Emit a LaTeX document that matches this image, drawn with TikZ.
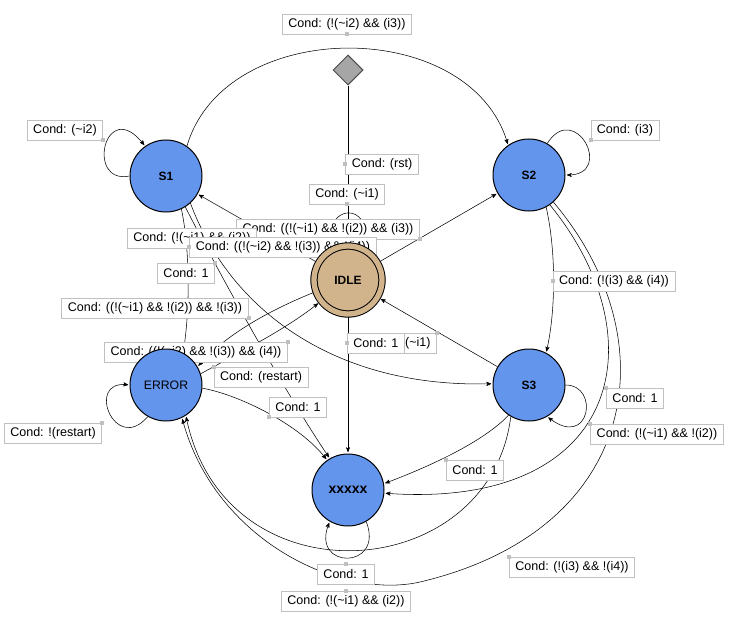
\documentclass[tikz,border=0pt]{standalone}
\usepackage{fontspec}
\setmainfont{Liberation Sans}
\usepackage{tikz}
\usetikzlibrary{automata,arrows,shapes.geometric}

\definecolor{stateblue}{RGB}{100,149,237}
\definecolor{idletan}{RGB}{210,180,140}
\definecolor{rstgray}{RGB}{166,166,166}
\definecolor{boxgray}{RGB}{192,192,192}

\newcommand{\tld}{\textasciitilde}

\pgfdeclarelayer{edges}
\pgfdeclarelayer{conds}
\pgfsetlayers{edges,conds,main}

\tikzset{
  every state/.style={draw, fill=stateblue, minimum size=54pt, inner sep=0pt,
    font=\fontsize{9}{10}\selectfont\bfseries},
  idle/.style={fill=idletan, double=idletan, double distance=4pt, minimum size=51pt, outer sep=2pt},
  rst/.style={diamond, draw=black!70, fill=rstgray, minimum size=22.5pt, inner sep=0pt},
  cond/.style={draw=boxgray, fill=white, font=\fontsize{9.4}{11}\selectfont,
    inner xsep=4.5pt, inner ysep=0pt, minimum height=15pt, line width=0.6pt},
  mk/.style={fill=boxgray}
}

\begin{document}
\begin{tikzpicture}[x=0.75pt,y=-0.75pt,>=stealth',shorten >=1pt,line width=0.75pt]
  \useasboundingbox (0,0) rectangle (741,631);

  \node[state] (s1) at (166,176) {S1};
  \node[state] (s2) at (529,175) {S2};
  \node[state,idle] (idle) at (348,280) {IDLE};
  \node[state,font=\fontsize{9.2}{10}\selectfont] (err) at (166,385) {ERROR};
  \node[state] (s3) at (529,385) {S3};
  \node[state,font=\fontsize{10.5}{12}\selectfont\bfseries] (xx) at (348,490) {xxxxx};
  \node[rst] (rst) at (348,70) {};

  \begin{pgfonlayer}{edges}
    \draw[->] (rst) -- (idle);
    \draw[->] (idle.115) .. controls (322,202) and (374,202) .. (idle.65);
    \draw[->] (s1.55) .. controls (225,16) and (470,16) .. (s2.125);
    \draw[->] (s1.180) .. controls (85,185) and (105,95) .. (s1.125);
    \draw[->] (s2.60) .. controls (575,100) and (615,175) .. (s2.0);
    \draw[->] (idle) -- (s2);
    \draw[->] (idle) -- (s1);
    \draw[->] (s1.-65) .. controls (190,250) and (190,310) .. (err.62);
    \draw[->] (s1.-58) .. controls (225,285) and (290,400) .. (xx.120);
    \draw[->] (s1.-48) .. controls (230,310) and (335,388) .. (s3.178);
    \draw[->] (idle.200) .. controls (270,310) and (225,335) .. (err.30);
    \draw[->] (err.18) .. controls (235,355) and (285,330) .. (idle.218);
    \draw[->] (err.-5) .. controls (240,395) and (300,425) .. (xx.125);
    \draw[->] (idle) -- (xx);
    \draw[->] (s3) -- (idle);
    \draw[->] (s2.-62) .. controls (556,250) and (556,310) .. (s3.62);
    \draw[->] (s3.0) .. controls (600,385) and (590,450) .. (s3.-60);
    \draw[->] (s3.-124) .. controls (480,445) and (420,470) .. (xx.10);
    \draw[->] (s2.-55) .. controls (660,340) and (620,510) .. (xx.-5);
    \draw[->] (s2.-48) .. controls (670,340) and (640,530) .. (420,582)
      .. controls (340,600) and (215,540) .. (err.-64);
    \draw[->] (s3.-120) .. controls (490,585) and (225,605) .. (err.-57);
    \draw[->] (xx.-60) .. controls (385,570) and (310,570) .. (xx.-120);
    \draw[->] (err.-120) .. controls (115,455) and (85,380) .. (err.180);
  \end{pgfonlayer}

  \begin{pgfonlayer}{conds}
    \node[cond] (cTop) at (347,24) {Cond: (!(\tld i2) \&\& (i3))};
    \node[cond] (cRst) at (382,164) {Cond: (rst)};
    \node[cond] (cIdleLoop) at (347,194) {Cond: (\tld i1)};
    \node[cond] (cS1Loop) at (65,130) {Cond: (\tld i2)};
    \node[cond] (cS2Loop) at (625,130) {Cond: (i3)};
    \node[cond] (cIdleS2) at (328,229) {Cond: ((!(\tld i1) \&\& !(i2)) \&\& (i3))};
    \node[cond,anchor=west] (cIdleS1) at (127,238) {Cond: (!(\tld i1) \&\& (i2))};
    \node[cond] (cS1Err) at (283,247) {Cond: ((!(\tld i2) \&\& !(i3)) \&\& !(i4))};
    \node[cond] (cS1X) at (186,273) {Cond: 1};
    \node[cond] (cIdleErr) at (155,308) {Cond: ((!(\tld i1) \&\& !(i2)) \&\& !(i3))};
    \node[cond] (cS1S3) at (196,352) {Cond: ((!(\tld i2) \&\& !(i3)) \&\& (i4))};
    \node[cond] (cRestart) at (261,377) {Cond: (restart)};
    \node[cond] (cErrX) at (298,407) {Cond: 1};
    \node[cond] (cErrLoop) at (53,433) {Cond: !(restart)};
    \node[cond,anchor=east] (cS3Idle) at (437,343) {Cond: (\tld i1)};
    \node[cond,anchor=west] (cIdleX) at (347,343) {Cond: 1};
    \node[cond] (cS2S3) at (614,281) {Cond: (!(i3) \&\& (i4))};
    \node[cond] (cS2X) at (635,398) {Cond: 1};
    \node[cond] (cS3Loop) at (657,434) {Cond: (!(\tld i1) \&\& !(i2))};
    \node[cond] (cS3X) at (475,470) {Cond: 1};
    \node[cond] (cS2Err) at (572,567) {Cond: (!(i3) \&\& !(i4))};
    \node[cond] (cXLoop) at (346,574) {Cond: 1};
    \node[cond] (cS3Err) at (346,601) {Cond: (!(\tld i1) \&\& (i2))};
    \foreach \m in {cTop.south,cRst.west,cIdleLoop.south,cS1Loop.south east,cS2Loop.south west,
        cIdleS2.south east,cS1Err.west,cS1X.north east,cIdleErr.south east,cS1S3.north east,
        cRestart.north west,cErrX.south west,cErrLoop.north east,cS3Idle.north east,cIdleX.west,
        cS2S3.west,cS2X.north west,cS3Loop.north west,cS3X.north west,cS2Err.north west,
        cXLoop.north,cS3Err.north}
      \fill[mk] (\m) ++(-2,-2) rectangle ++(4,4);
  \end{pgfonlayer}
\end{tikzpicture}
\end{document}
